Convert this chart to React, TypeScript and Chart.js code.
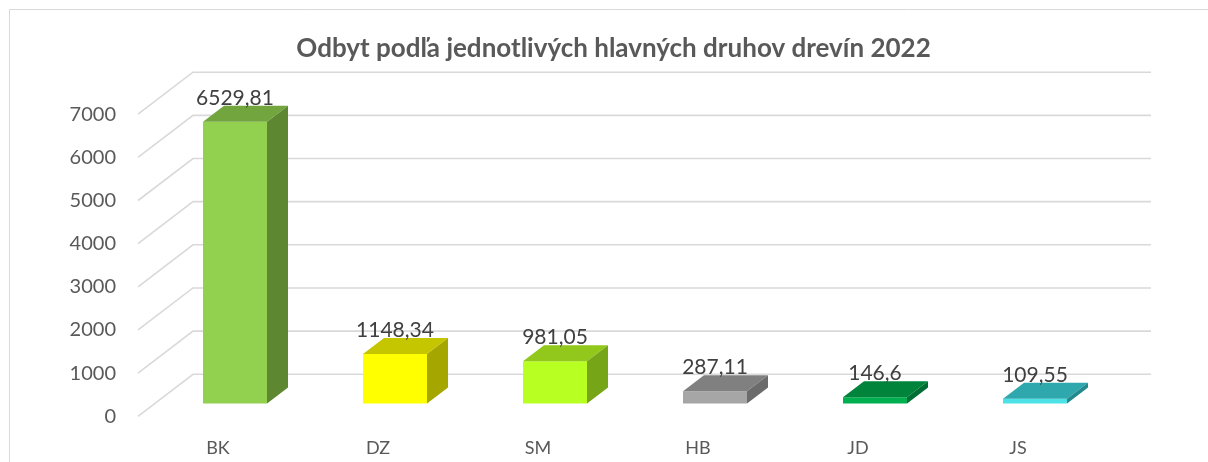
import { useEffect, useRef } from 'react';
import { Chart, registerables } from 'chart.js';

Chart.register(...registerables);

// ---- data ----
const categories = ['BK', 'DZ', 'SM', 'HB', 'JD', 'JS'];
const values = [6529.81, 1148.34, 981.05, 287.11, 146.6, 109.55];
const yTicks = [0, 1000, 2000, 3000, 4000, 5000, 6000, 7000];
const chartTitle = 'Odbyt podľa jednotlivých hlavných druhov drevín 2022';

// ---- styles ----
const frontColors = ['#92D050', '#FFFF00', '#B8FF22', '#A6A6A6', '#00B050', '#4DE3E6'];
const topColors = ['#72A53E', '#C6C600', '#92C81C', '#808080', '#00833B', '#2EA8AC'];
const sideColors = ['#5E8731', '#A6A600', '#77A518', '#6B6B6B', '#006E32', '#23898D'];
const TEXT = '#595959';
const GRID = '#d9d9d9';
const FONT = 'Lato, "Open Sans", sans-serif';

// ---- pseudo-3D geometry (pixels) ----
const K = 0.04316; // px per unit
const AREA_TOP = 64;
const AREA_BOTTOM = 430;
const BAR_ZERO = 403.6;
const WALL_ZERO = 374.3;
const LABEL_ZERO = 416.3;
const DEPTH_DX = 21;
const DEPTH_DY = 16;
const WALL_LEFT = 193;
const WALL_RIGHT = 1151;
const SIDE_DX = 55;
const SIDE_DY = 42;

const rng = (zero: number) => ({ min: (zero - AREA_BOTTOM) / K, max: (zero - AREA_TOP) / K });
const fmt = (v: number) => String(v).replace('.', ',');

const fixedScale = (zero: number) => {
  const r = rng(zero);
  return {
    min: r.min,
    max: r.max,
    bounds: 'data',
    afterBuildTicks: (s: any) => {
      s.ticks = yTicks.map((v) => ({ value: v }));
      s.min = r.min;
      s.max = r.max;
    },
  };
};

const threeD = {
  id: 'threeD',
  beforeDatasetsDraw(chart: any) {
    const ctx = chart.ctx;
    ctx.save();
    ctx.strokeStyle = GRID;
    ctx.lineWidth = 1;
    ctx.beginPath();
    ctx.moveTo(9.5, chart.height);
    ctx.lineTo(9.5, 9.5);
    ctx.lineTo(chart.width, 9.5);
    ctx.stroke();
    const yb = chart.scales.yb;
    ctx.lineWidth = 1.6;
    for (const v of yTicks) {
      const y = yb.getPixelForValue(v);
      ctx.beginPath();
      ctx.moveTo(WALL_LEFT - SIDE_DX, y + SIDE_DY);
      ctx.lineTo(WALL_LEFT, y);
      ctx.lineTo(WALL_RIGHT, y);
      ctx.stroke();
    }
    ctx.restore();
  },
  afterDatasetsDraw(chart: any) {
    const ctx = chart.ctx;
    const meta = chart.getDatasetMeta(0);
    ctx.save();
    meta.data.forEach((el: any, i: number) => {
      const { x, y, base, width } = el.getProps(['x', 'y', 'base', 'width'], true);
      const l = x - width / 2;
      const r = x + width / 2;
      ctx.fillStyle = topColors[i];
      ctx.beginPath();
      ctx.moveTo(l, y);
      ctx.lineTo(r, y);
      ctx.lineTo(r + DEPTH_DX, y - DEPTH_DY);
      ctx.lineTo(l + DEPTH_DX, y - DEPTH_DY);
      ctx.closePath();
      ctx.fill();
      ctx.fillStyle = sideColors[i];
      ctx.beginPath();
      ctx.moveTo(r, y);
      ctx.lineTo(r + DEPTH_DX, y - DEPTH_DY);
      ctx.lineTo(r + DEPTH_DX, base - DEPTH_DY);
      ctx.lineTo(r, base);
      ctx.closePath();
      ctx.fill();
      ctx.fillStyle = '#404040';
      ctx.font = `21px ${FONT}`;
      ctx.textAlign = 'center';
      ctx.textBaseline = 'middle';
      ctx.fillText(fmt(values[i]), x, y - 24);
    });
    ctx.restore();
  },
};

export default function App() {
  const ref = useRef<HTMLCanvasElement>(null);
  useEffect(() => {
    if (!ref.current) return;
    const chart = new Chart(ref.current, {
      type: 'bar',
      data: {
        labels: categories,
        datasets: [
          {
            data: values,
            backgroundColor: frontColors,
            borderWidth: 0,
            categoryPercentage: 1,
            barPercentage: 0.4,
            xAxisID: 'x',
            yAxisID: 'y',
          },
        ],
      },
      options: {
        animation: false,
        responsive: true,
        maintainAspectRatio: false,
        layout: { padding: { left: 19, right: 0, top: 0, bottom: 0 } },
        plugins: {
          legend: { display: false },
          tooltip: { enabled: false },
          title: {
            display: true,
            text: chartTitle,
            color: TEXT,
            font: { family: FONT, size: 26, weight: 'bold', lineHeight: '30px' },
            padding: { top: 34, bottom: 0 },
          },
        },
        scales: {
          x: {
            type: 'category',
            position: 'bottom',
            grid: { display: false, drawTicks: false },
            border: { display: false },
            ticks: {
              labelOffset: -17,
              padding: 7,
              color: TEXT,
              font: { family: FONT, size: 18 },
              autoSkip: false,
              maxRotation: 0,
            },
            afterFit: (s: any) => {
              s.height = 32;
            },
          },
          y: {
            display: false,
            ...fixedScale(BAR_ZERO),
          },
          yb: {
            position: 'right',
            ...fixedScale(WALL_ZERO),
            grid: { display: false, drawTicks: false },
            border: { display: false },
            ticks: { display: false },
            afterFit: (s: any) => {
              s.width = 93;
              s.paddingTop = 0;
              s.paddingBottom = 0;
            },
          },
          yl: {
            position: 'left',
            ...fixedScale(LABEL_ZERO),
            grid: { display: false, drawTicks: false },
            border: { display: false },
            ticks: {
              padding: 39,
              color: TEXT,
              font: { family: FONT, size: 20 },
              callback: (v: any) => String(v),
            },
            afterFit: (s: any) => {
              s.width = 136;
              s.paddingTop = 0;
              s.paddingBottom = 0;
            },
          },
        },
      } as any,
      plugins: [threeD],
    });
    return () => chart.destroy();
  }, []);
  return (
    <div style={{ position: 'fixed', left: 0, top: 0, width: 1208, height: 462, background: '#fff' }}>
      <canvas ref={ref} />
    </div>
  );
}
